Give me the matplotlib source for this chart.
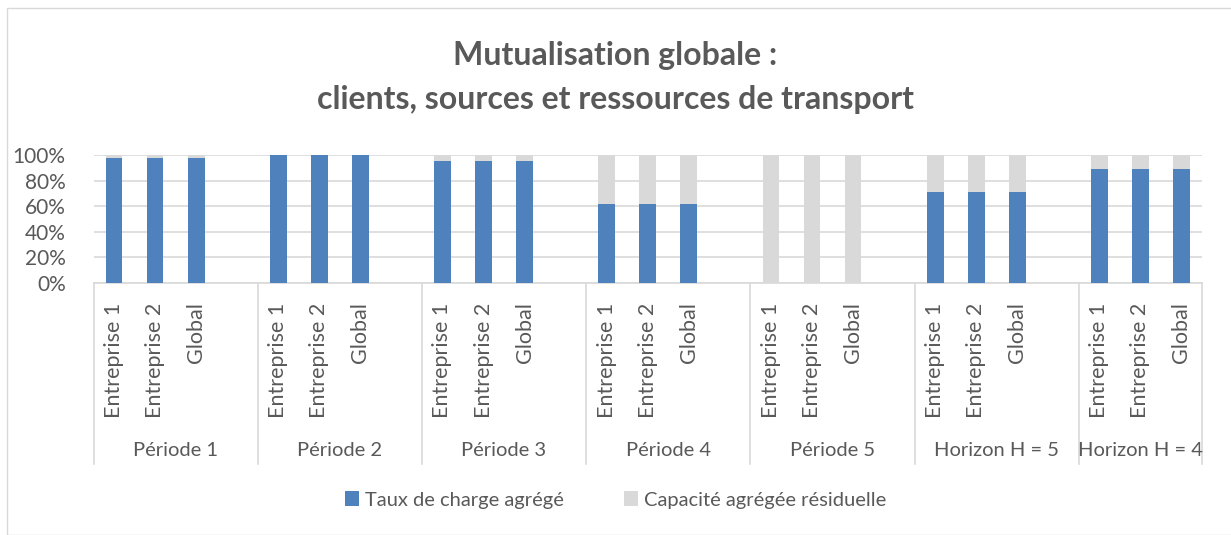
import matplotlib
matplotlib.use("Agg")
import matplotlib.pyplot as plt
from matplotlib.patches import Rectangle
from matplotlib.lines import Line2D
import matplotlib.transforms as mtransforms

plt.rcParams['font.family'] = ['Lato', 'DejaVu Sans']

groups = ["Période 1", "Période 2", "Période 3", "Période 4", "Période 5",
          "Horizon H = 5", "Horizon H = 4"]
members = ["Entreprise 1", "Entreprise 2", "Global"]
taux = [
    [0.98, 0.98, 0.98],
    [1.00, 1.00, 1.00],
    [0.95, 0.95, 0.95],
    [0.62, 0.62, 0.62],
    [0.00, 0.00, 0.00],
    [0.71, 0.71, 0.71],
    [0.89, 0.89, 0.89],
]
series_names = ["Taux de charge agrégé", "Capacité agrégée résiduelle"]
yticks = [0, 0.2, 0.4, 0.6, 0.8, 1.0]
ytick_labels = ["0%", "20%", "40%", "60%", "80%", "100%"]

BLUE = "#4F81BD"
GREY = "#D9D9D9"
TXT = "#595959"
LINE = "#D9D9D9"

W, H = 1231, 535
fig = plt.figure(figsize=(W / 100, H / 100), dpi=100)

# chart border
fig.patches.append(Rectangle((7 / W, 0), 1.2, 1 - 8 / H, transform=fig.transFigure,
                             fill=False, edgecolor="#D9D9D9", lw=1.0))

x0, x1 = 93.5, 1202
y_top, y_bot = 155, 283
ax = fig.add_axes([x0 / W, 1 - y_bot / H, (x1 - x0) / W, (y_bot - y_top) / H])

# slot layout: 4 slots per group (last slot empty), last group 3 slots
positions = []
group_bounds = []
slot = 0
for gi, g in enumerate(groups):
    start = slot
    for mi in range(len(members)):
        positions.append(slot + 0.5)
        slot += 1
    if gi < len(groups) - 1:
        slot += 1
    group_bounds.append((start, slot))
total_slots = slot

vals = [v for row in taux for v in row]
resid = [1 - v for v in vals]
ax.bar(positions, vals, width=0.41, color=BLUE, label=series_names[0], zorder=3)
ax.bar(positions, resid, width=0.41, bottom=vals, color=GREY, label=series_names[1], zorder=3)

ax.set_xlim(0, total_slots)
ax.set_ylim(0, 1)
ax.set_yticks(yticks)
ax.set_yticklabels(ytick_labels, fontsize=15, color=TXT)
ax.yaxis.grid(True, color=LINE, lw=1.2, zorder=0)
ax.tick_params(axis='y', length=0, pad=20)
for s in ["top", "right", "left"]:
    ax.spines[s].set_visible(False)
ax.spines["bottom"].set_color(LINE)
ax.spines["bottom"].set_linewidth(1.2)

ax.set_xticks(positions)
ax.set_xticklabels(members * len(groups), rotation=90, fontsize=15.5, color=TXT, va="top", ha="center")
ax.tick_params(axis='x', length=0, pad=14)

trans = mtransforms.blended_transform_factory(ax.transData, ax.transAxes)
line_bottom = -(464 - y_bot) / (y_bot - y_top)
bounds = sorted(set([b for gb in group_bounds for b in gb]))
for b in bounds:
    ax.add_line(Line2D([b, b], [0, line_bottom], transform=trans, color=LINE, lw=1.2, clip_on=False))
label_y = -(450 - y_bot) / (y_bot - y_top)
for g, (s, e) in zip(groups, group_bounds):
    ax.text((s + e) / 2, label_y, g, transform=trans, ha="center", va="center",
            fontsize=14.5, color=TXT)

fig.text(0.5, 1 - 55 / H, "Mutualisation globale :", ha="center", va="center",
         fontsize=23, fontweight="bold", color=TXT)
fig.text(0.5, 1 - 100 / H, "clients, sources et ressources de transport", ha="center",
         va="center", fontsize=23, fontweight="bold", color=TXT)

leg = fig.legend(loc="center", bbox_to_anchor=(0.5, 1 - 500 / H), ncol=2, frameon=False,
                 fontsize=14.5, handlelength=0.7, handleheight=0.7, handletextpad=0.3,
                 columnspacing=3.0)
for t in leg.get_texts():
    t.set_color(TXT)

fig.savefig("out.png", dpi=100, facecolor="white")
